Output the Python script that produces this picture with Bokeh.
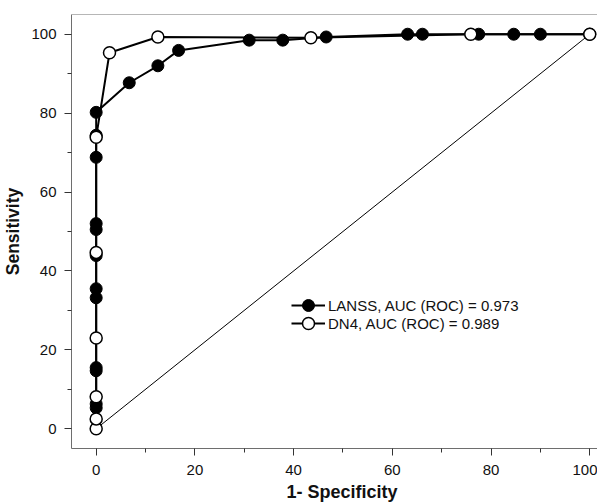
from bokeh.plotting import figure
from bokeh.models import FixedTicker, Legend, LegendItem, Span, Range1d, Title
from bokeh.embed import file_html
from bokeh.resources import INLINE

# LANSS (filled markers): 1 - specificity (%) and sensitivity (%)
lanss_fpr = [0, 0, 0, 0, 0, 0, 0, 0, 0, 0, 0, 0, 6.7, 12.5, 16.7, 31.0, 37.8, 46.6,
             63.1, 66.1, 77.5, 84.6, 90.0, 100]
lanss_tpr = [5.3, 6.3, 14.7, 15.5, 33.2, 35.5, 43.9, 50.5, 52.0, 68.8, 74.4, 80.2,
             87.7, 92.0, 95.9, 98.5, 98.5, 99.3, 100, 100, 100, 100, 100, 100]

# DN4 (open markers)
dn4_fpr = [0, 0, 0, 0, 0, 0, 2.7, 12.5, 43.5, 75.9, 100]
dn4_tpr = [0, 2.5, 8.1, 23.0, 44.7, 73.9, 95.3, 99.3, 99.1, 100, 100]

# reference (chance) line
diag_x = [0, 100]
diag_y = [0, 100]

x_ticks = [0, 20, 40, 60, 80, 100]
x_minor = [10, 30, 50, 70, 90]
y_ticks = [0, 20, 40, 60, 80, 100]
y_minor = [10, 30, 50, 70, 90]

labels = ["LANSS, AUC (ROC) = 0.973", "DN4, AUC (ROC) = 0.989"]
x_title = "1- Specificity"
y_title = "Sensitivity"

FONT = "Liberation Sans"
AXIS_GRAY = "#6e6e6e"
TEXT = "#111111"

p = figure(width=597, height=504, output_backend="svg", toolbar_location=None,
           x_range=Range1d(-5, 101.57), y_range=Range1d(-5, 105),
           min_border_left=70, min_border_right=0, min_border_top=14,
           min_border_bottom=56)
p.outline_line_color = None
p.xgrid.visible = False
p.ygrid.visible = False
p.background_fill_color = "white"

for ax, tk, mn in ((p.xaxis[0], x_ticks, x_minor), (p.yaxis[0], y_ticks, y_minor)):
    ax.ticker = FixedTicker(ticks=tk, minor_ticks=mn)
    ax.axis_line_color = AXIS_GRAY
    ax.axis_line_width = 1
    ax.major_tick_line_color = "#333333"
    ax.minor_tick_line_color = "#333333"
    ax.major_tick_out = 7
    ax.major_tick_in = 0
    ax.minor_tick_out = 4
    ax.minor_tick_in = 0
    ax.major_label_text_font = FONT
    ax.major_label_text_font_size = "15px"
    ax.major_label_text_color = TEXT
p.yaxis[0].major_label_standoff = 8
p.xaxis[0].major_label_standoff = 9

p.yaxis[0].axis_label = y_title
p.yaxis[0].axis_label_text_font = FONT
p.yaxis[0].axis_label_text_font_size = "17.5px"
p.yaxis[0].axis_label_text_font_style = "bold"
p.yaxis[0].axis_label_text_color = TEXT
p.yaxis[0].axis_label_standoff = 5

p.add_layout(Title(text=x_title, align="left", offset=215, standoff=5,
                   text_font=FONT, text_font_size="18px", text_font_style="bold",
                   text_color=TEXT), "below")

# top frame line
p.add_layout(Span(location=105, dimension="width", line_color=AXIS_GRAY, line_width=1))

# chance diagonal
p.line(diag_x, diag_y, line_color="black", line_width=1)

l1 = p.line(lanss_fpr, lanss_tpr, line_color="black", line_width=2)
l2 = p.line(dn4_fpr, dn4_tpr, line_color="black", line_width=2)
s1 = p.scatter(lanss_fpr, lanss_tpr, marker="circle", size=12,
               fill_color="black", line_color="black", line_width=1)
s2 = p.scatter(dn4_fpr, dn4_tpr, marker="circle", size=12,
               fill_color="white", line_color="black", line_width=1.5)

def make_legend(label, rends, bottom):
    lg = Legend(items=[LegendItem(label=label, renderers=rends)],
                location=(220, bottom), orientation="vertical")
    lg.glyph_width = 34
    lg.glyph_height = 30
    lg.label_height = 20
    lg.spacing = 0
    lg.padding = 0
    lg.margin = 0
    lg.label_standoff = 3
    lg.border_line_color = None
    lg.background_fill_alpha = 0
    lg.label_text_font = FONT
    lg.label_text_font_size = "15px"
    lg.label_text_color = TEXT
    lg.label_text_baseline = "middle"
    return lg

p.add_layout(make_legend(labels[0], [l1, s1], 128), "center")
p.add_layout(make_legend(labels[1], [l2, s2], 110), "center")

open("out.html", "w").write(file_html(p, INLINE))
